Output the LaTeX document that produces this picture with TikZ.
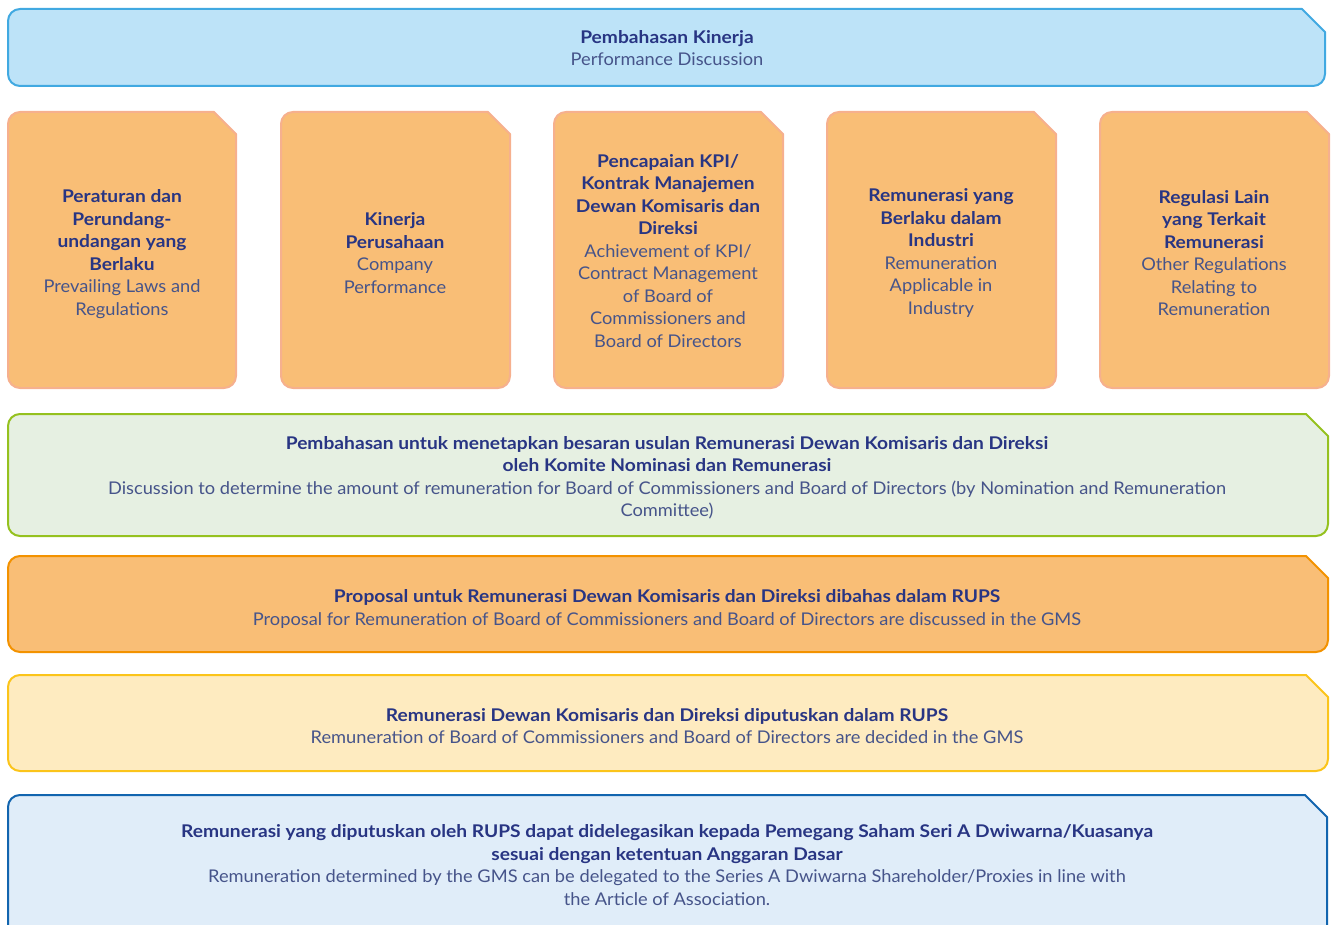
\documentclass[tikz,border=0pt]{standalone}
\usepackage{fontspec}
\setmainfont{Lato}[FakeStretch=1.043, BoldFeatures={FakeStretch=1.096}]
\definecolor{navy}{HTML}{283583}
\definecolor{greytxt}{HTML}{46548A}
\definecolor{topfill}{HTML}{BDE3F8}
\definecolor{topline}{HTML}{41A9E1}
\definecolor{cardfill}{HTML}{F9BE76}
\definecolor{cardline}{HTML}{F6B08E}
\definecolor{greenfill}{HTML}{E6F0E2}
\definecolor{greenline}{HTML}{95C11F}
\definecolor{orline}{HTML}{F39200}
\definecolor{yelfill}{HTML}{FEEBC0}
\definecolor{yelline}{HTML}{FBC41A}
\definecolor{botfill}{HTML}{E0EDF9}
\definecolor{botline}{HTML}{1265AF}
\newcommand\cutbox[6]{%
  \draw[#1] ({#4-#6},{-#3}) -- (#4,{-#3-#6}) -- (#4,{-#5+12})
    arc[start angle=0,end angle=-90,radius=12] -- ({#2+12},-#5)
    arc[start angle=270,end angle=180,radius=12] -- (#2,{-#3-12})
    arc[start angle=180,end angle=90,radius=12] -- cycle;}
\newcommand\bt[1]{{\bfseries\color{navy}#1}}
\tikzset{
  txt/.style={align=center, font=\fontsize{17.5}{22.5}\selectfont, text=greytxt, inner sep=0pt},
  shp/.style={line width=2pt, line join=round},
}
\begin{document}
\begin{tikzpicture}[x=1pt,y=1pt]
\useasboundingbox (0,0) rectangle (1331,-925);
\begin{scope}
\clip (0,0) rectangle (1331,-925);
\cutbox{shp,fill=topfill,draw=topline}{8}{9}{1325}{86}{23}
\cutbox{shp,fill=cardfill,draw=cardline}{8}{112}{236}{388}{22}
\cutbox{shp,fill=cardfill,draw=cardline}{281}{112}{510}{388}{22}
\cutbox{shp,fill=cardfill,draw=cardline}{554}{112}{783}{388}{22}
\cutbox{shp,fill=cardfill,draw=cardline}{827}{112}{1056}{388}{22}
\cutbox{shp,fill=cardfill,draw=cardline}{1100}{112}{1329}{388}{22}
\cutbox{shp,fill=greenfill,draw=greenline}{8}{414}{1328}{536}{22}
\cutbox{shp,fill=cardfill,draw=orline}{8}{556}{1328}{652}{22}
\cutbox{shp,fill=yelfill,draw=yelline}{8}{675}{1328}{771}{22}
\cutbox{shp,fill=botfill,draw=botline}{8}{795}{1327}{945}{22}
\end{scope}
\node[txt] (top) at (667,-48) {\bt{Pembahasan Kinerja}\\Performance Discussion};
\node[txt] (c1) at (122,-254) {\bt{Peraturan dan}\\\bt{Perundang-}\\\bt{undangan yang}\\\bt{Berlaku}\\Prevailing Laws and\\Regulations};
\node[txt] (c2) at (395,-253) {\bt{Kinerja}\\\bt{Perusahaan}\\Company\\Performance};
\node[txt] (c3) at (668,-251) {\bt{Pencapaian KPI/}\\\bt{Kontrak Manajemen}\\\bt{Dewan Komisaris dan}\\\bt{Direksi}\\Achievement of KPI/\\Contract Management\\of Board of\\Commissioners and\\Board of Directors};
\node[txt] (c4) at (941,-253) {\bt{Remunerasi yang}\\\bt{Berlaku dalam}\\\bt{Industri}\\Remuneration\\Applicable in\\Industry};
\node[txt] (c5) at (1214,-253) {\bt{Regulasi Lain}\\\bt{yang Terkait}\\\bt{Remunerasi}\\Other Regulations\\Relating to\\Remuneration};
\node[txt] (green) at (667,-478) {\bt{Pembahasan untuk menetapkan besaran usulan Remunerasi Dewan Komisaris dan Direksi}\\\bt{oleh Komite Nominasi dan Remunerasi}\\Discussion to determine the amount of remuneration for Board of Commissioners and Board of Directors (by Nomination and Remuneration\\Committee)};
\node[txt] (prop) at (667,-609) {\bt{Proposal untuk Remunerasi Dewan Komisaris dan Direksi dibahas dalam RUPS}\\Proposal for Remuneration of Board of Commissioners and Board of Directors are discussed in the GMS};
\node[txt] (dec) at (667,-726) {\bt{Remunerasi Dewan Komisaris dan Direksi diputuskan dalam RUPS}\\Remuneration of Board of Commissioners and Board of Directors are decided in the GMS};
\node[txt] (del) at (667,-865) {\bt{Remunerasi yang diputuskan oleh RUPS dapat didelegasikan kepada Pemegang Saham Seri A Dwiwarna/Kuasanya}\\\bt{sesuai dengan ketentuan Anggaran Dasar}\\Remuneration determined by the GMS can be delegated to the Series A Dwiwarna Shareholder/Proxies in line with\\the Article of Association.};
\end{tikzpicture}
\end{document}
